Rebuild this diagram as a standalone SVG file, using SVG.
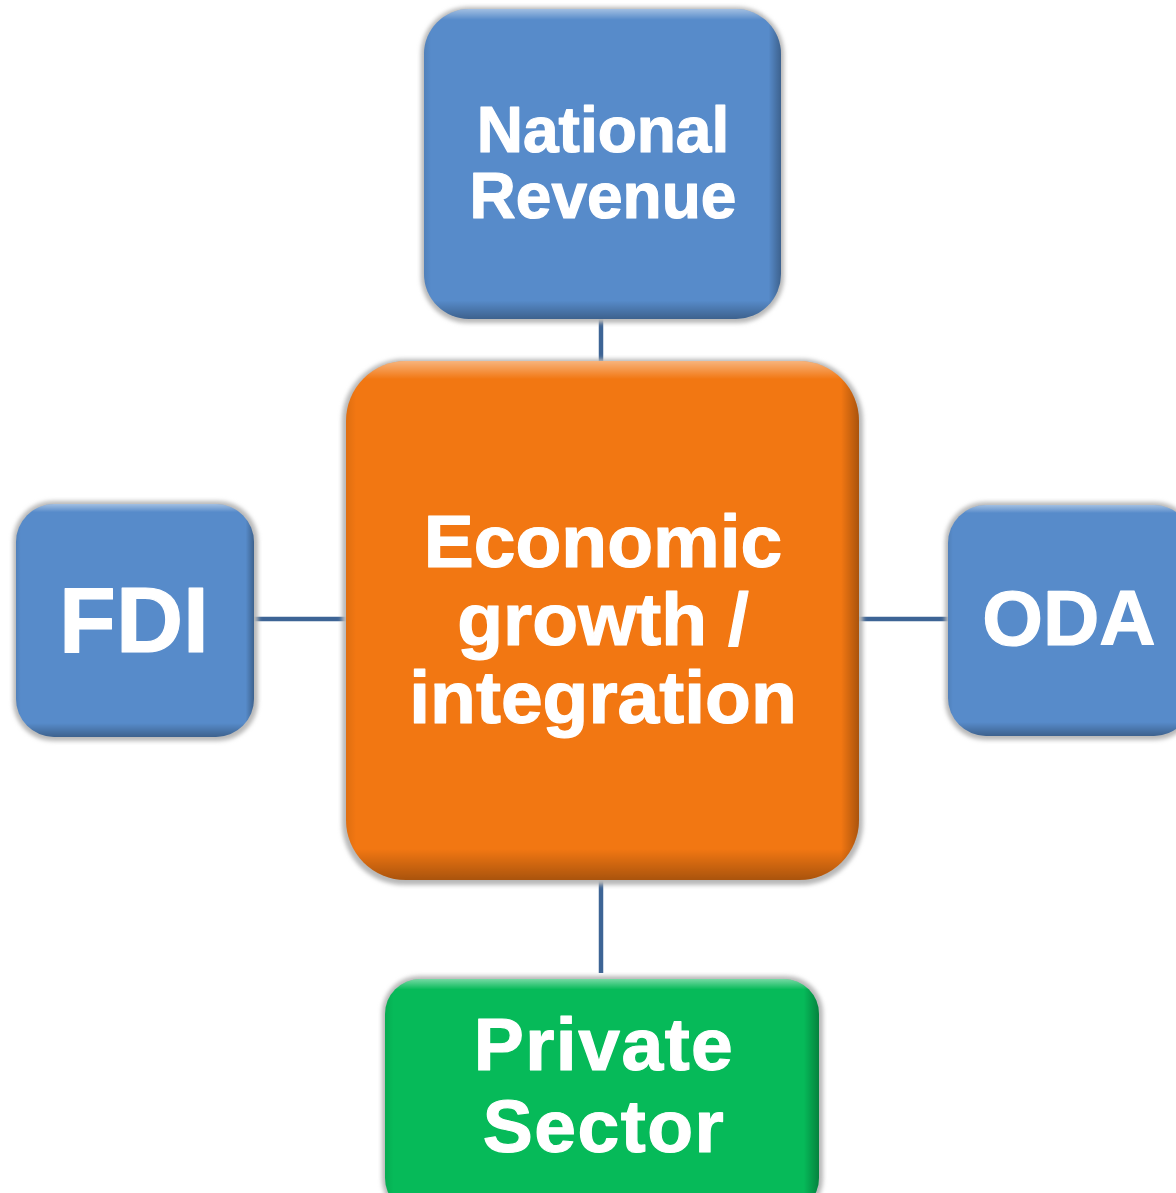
<svg xmlns="http://www.w3.org/2000/svg" width="1176" height="1193" viewBox="0 0 1176 1193">
<defs>
<linearGradient id="bevelV" x1="0" y1="0" x2="0" y2="1">
<stop offset="0" stop-color="#ffffff" stop-opacity="0.45"/>
<stop offset="0.035" stop-color="#ffffff" stop-opacity="0.0"/>
<stop offset="0.94" stop-color="#000000" stop-opacity="0.0"/>
<stop offset="1" stop-color="#000000" stop-opacity="0.3"/>
</linearGradient>
<linearGradient id="bevelH" x1="0" y1="0" x2="1" y2="0">
<stop offset="0" stop-color="#000000" stop-opacity="0.08"/>
<stop offset="0.02" stop-color="#000000" stop-opacity="0"/>
<stop offset="0.965" stop-color="#000000" stop-opacity="0"/>
<stop offset="1" stop-color="#000000" stop-opacity="0.3"/>
</linearGradient>
<filter id="sh" x="-10%" y="-10%" width="120%" height="120%">
<feGaussianBlur stdDeviation="2"/>
</filter>
</defs>
<style>
.shadow{fill:#b8b8b8;filter:url(#sh)}
.blue{fill:#578BCA}
.orange{fill:#F27712}
.green{fill:#06BA59}
.bv{fill:url(#bevelV)}
.bh{fill:url(#bevelH)}
.lbl{font-family:"Liberation Sans",Arial,sans-serif;font-weight:bold;fill:#ffffff;stroke:#ffffff;stroke-width:1.2;stroke-linejoin:round;text-anchor:middle}
.conn{stroke:#3D6495;stroke-width:4.5;fill:none}
</style>
<rect width="1176" height="1193" fill="#ffffff"/>
<g id="connectors">
<line class="conn" x1="601" y1="318" x2="601" y2="362"/>
<line class="conn" x1="254" y1="619" x2="347" y2="619"/>
<line class="conn" x1="859" y1="619" x2="949" y2="619"/>
<line class="conn" x1="601" y1="880" x2="601" y2="973"/>
</g>
<g id="national-revenue">
<rect class="shadow" x="421" y="7" width="363" height="316" rx="47"/>
<rect class="blue" x="424" y="9" width="357" height="310" rx="45"/>
<rect class="bv" x="424" y="9" width="357" height="310" rx="45"/>
<rect class="bh" x="424" y="9" width="357" height="310" rx="45"/>
<text class="lbl" x="603" y="152" font-size="64">National</text>
<text class="lbl" x="603" y="218" font-size="64">Revenue</text>
</g>
<g id="economic-growth">
<rect class="shadow" x="342" y="359" width="521" height="526" rx="62"/>
<rect class="orange" x="346" y="361" width="513" height="519" rx="60"/>
<rect class="bv" x="346" y="361" width="513" height="519" rx="60"/>
<rect class="bh" x="346" y="361" width="513" height="519" rx="60"/>
<text class="lbl" x="603" y="567" font-size="75">Economic</text>
<text class="lbl" x="603" y="645" font-size="75">growth /</text>
<text class="lbl" x="603" y="723" font-size="75">integration</text>
</g>
<g id="fdi">
<rect class="shadow" x="13" y="501" width="245" height="240" rx="40"/>
<rect class="blue" x="16" y="504" width="238" height="233" rx="38"/>
<rect class="bv" x="16" y="504" width="238" height="233" rx="38"/>
<rect class="bh" x="16" y="504" width="238" height="233" rx="38"/>
<text class="lbl" x="134" y="652" font-size="93">FDI</text>
</g>
<g id="oda">
<rect class="shadow" x="945" y="502" width="250" height="238" rx="40"/>
<rect class="blue" x="948" y="505" width="244" height="231" rx="38"/>
<rect class="bv" x="948" y="505" width="244" height="231" rx="38"/>
<rect class="bh" x="948" y="505" width="244" height="231" rx="38"/>
<text class="lbl" x="1069" y="645" font-size="78">ODA</text>
</g>
<g id="private-sector">
<rect class="shadow" x="382" y="976" width="441" height="240" rx="37"/>
<rect class="green" x="385" y="979" width="434" height="234" rx="35"/>
<rect class="bv" x="385" y="979" width="434" height="300" rx="35"/>
<rect class="bh" x="385" y="979" width="434" height="234" rx="35"/>
<text class="lbl" x="604" y="1070" font-size="75" letter-spacing="1.5">Private</text>
<text class="lbl" x="604" y="1152" font-size="75" letter-spacing="1.5">Sector</text>
</g>
</svg>
